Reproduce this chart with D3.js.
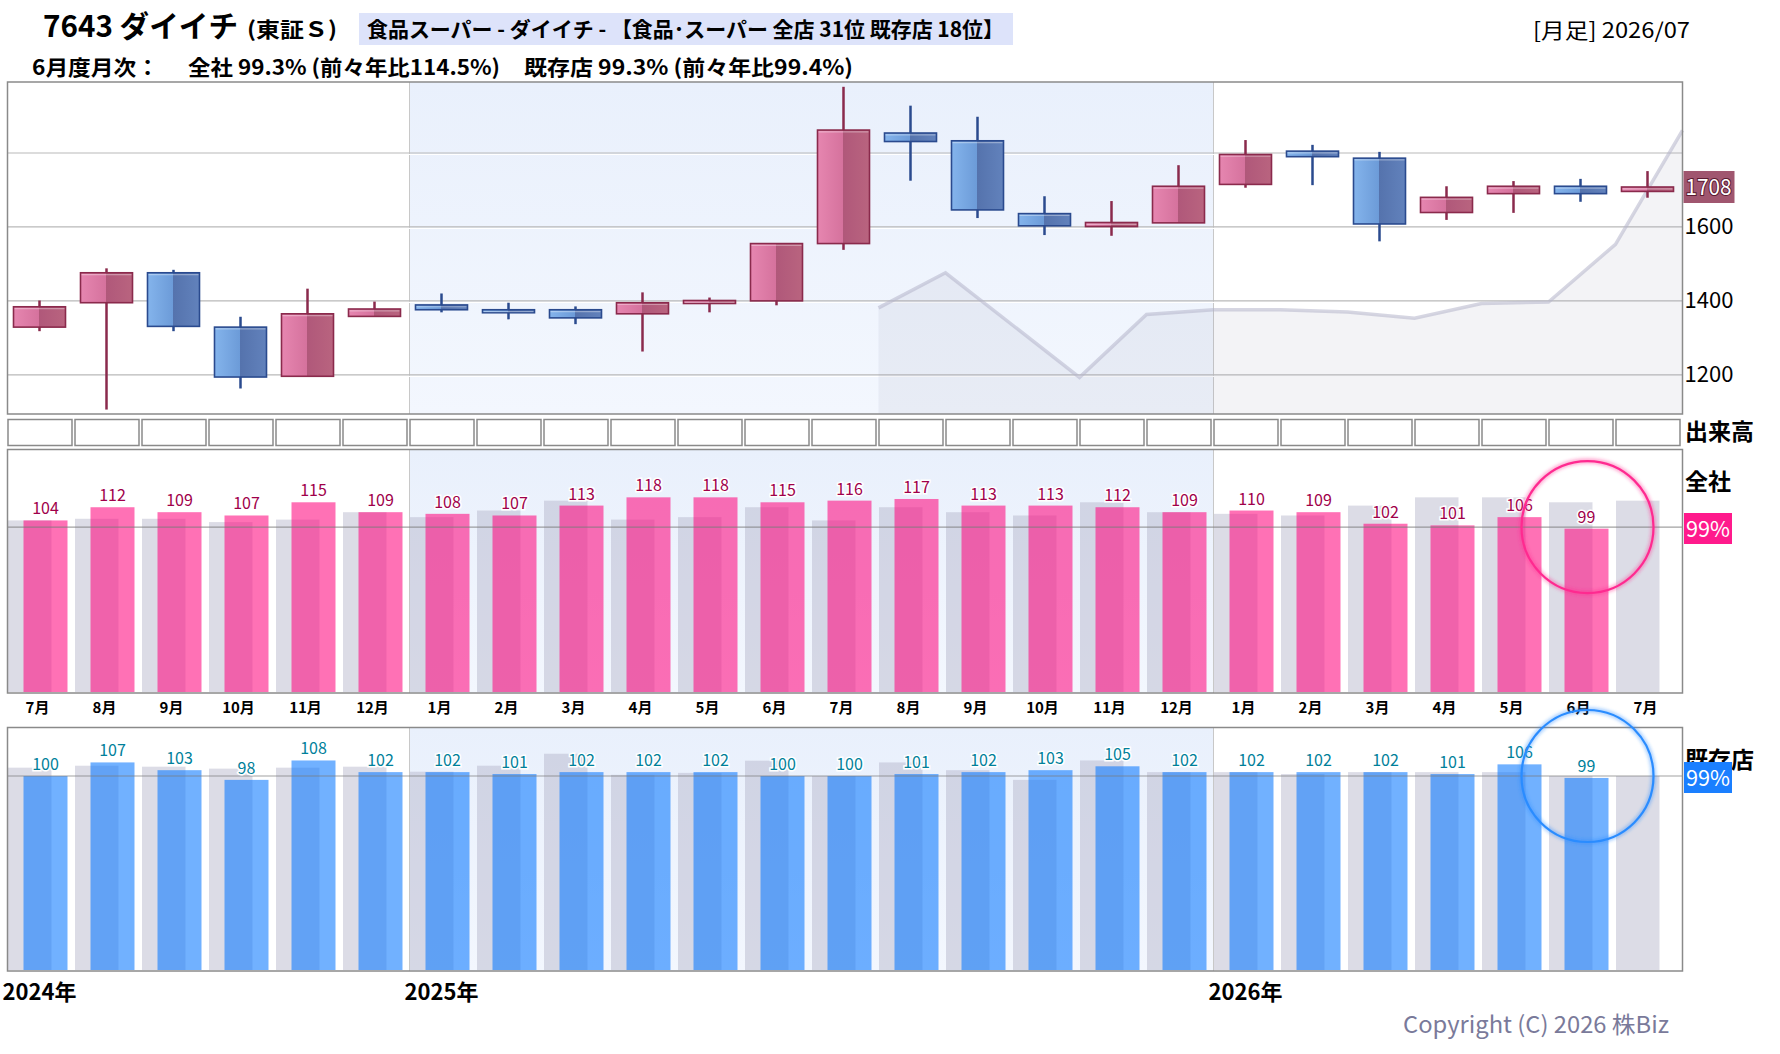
<!DOCTYPE html>
<html>
<head>
<meta charset="utf-8">
<script src="https://d3js.org/d3.v7.min.js"></script>
<style>
  body { margin: 0; background: #fff; }
  text { font-family: "Noto Sans CJK JP", "Noto Sans", sans-serif; }
</style>
</head>
<body>
<div id="chart"></div>
<script>
let width = 1780
let height = 1054

// month labels, 2024/07 .. 2026/07
let months = ["7月", "8月", "9月", "10月", "11月", "12月", "1月", "2月", "3月", "4月", "5月", "6月",
  "7月", "8月", "9月", "10月", "11月", "12月", "1月", "2月", "3月", "4月", "5月", "6月", "7月"]
let yearLabels = ["2024年", "2025年", "2026年"]
let yearStart = [0, 6, 18]

// monthly candles (price)
let opens = [1329, 1395, 1476, 1329, 1196, 1358, 1389, 1376, 1376, 1365, 1395, 1400, 1555,
  1854, 1833, 1636, 1601, 1611, 1715, 1805, 1786, 1639, 1690, 1710, 1696]
let highs = [1401, 1488, 1484, 1357, 1433, 1398, 1420, 1395, 1385, 1423, 1409, 1555, 1979,
  1928, 1898, 1683, 1670, 1767, 1835, 1822, 1803, 1710, 1724, 1730, 1751]
let lows = [1318, 1106, 1318, 1163, 1196, 1358, 1369, 1350, 1337, 1263, 1369, 1388, 1538,
  1725, 1624, 1578, 1576, 1611, 1706, 1713, 1561, 1619, 1638, 1668, 1679]
let closes = [1384, 1476, 1331, 1194, 1365, 1378, 1376, 1369, 1354, 1395, 1401, 1555, 1862,
  1831, 1646, 1603, 1612, 1710, 1796, 1790, 1608, 1680, 1710, 1690, 1708]

// grey background line (column boundary index, value)
let areaIdx = [13, 14, 16, 17, 18, 19, 20, 21, 22, 23, 24, 25]
let areaVals = [1381, 1476, 1193, 1363, 1376, 1376, 1370, 1353, 1393, 1397, 1553, 1861]

let priceTicks = [1200, 1400, 1600]
let gridTicks = [1200, 1400, 1600, 1800]
let lastPrice = 1708

// 全社 monthly sales vs last year (%), and last year's values (grey)
let zensha = [104, 112, 109, 107, 115, 109, 108, 107, 113, 118, 118, 115, 116, 117, 113, 113, 112, 109, 110, 109, 102, 101, 106, 99]
let zenshaPrev = [104, 105, 105, 103, 104.5, 109, 106, 110, 116, 104.5, 106, 112,
  104, 112, 109, 107, 115, 109, 108, 107, 113, 118, 118, 115, 116]

// 既存店
let kizon = [100, 107, 103, 98, 108, 102, 102, 101, 102, 102, 102, 100, 100, 101, 102, 103, 105, 102, 102, 102, 102, 101, 106, 99]
let kizonPrev = [104.3, 105.3, 104.8, 103.8, 104.3, 104.8, 102.2, 105.3, 111.5, 100.6, 101.6, 107.9,
  100, 107, 103, 98, 108, 102, 102, 101, 102, 102, 102, 100, 100]

let svg = d3.select("#chart").append("svg")
  .attr("width", width)
  .attr("height", height)

let defs = svg.append("defs")

function hGrad(id, stops) {
  let g = defs.append("linearGradient").attr("id", id)
    .attr("x1", "0%").attr("x2", "100%").attr("y1", "0%").attr("y2", "0%")
  stops.forEach(s => g.append("stop").attr("offset", s[0]).attr("stop-color", s[1]))
}
hGrad("upGrad", [["0%", "#e686b0"], ["49%", "#d5729d"], ["50%", "#b0587a"], ["100%", "#b9647f"]])
hGrad("dnGrad", [["0%", "#84b4ec"], ["49%", "#6c9bd8"], ["50%", "#5573ad"], ["100%", "#6282bc"]])

let bg = defs.append("linearGradient").attr("id", "bg25")
  .attr("x1", "0%").attr("x2", "0%").attr("y1", "0%").attr("y2", "100%")
bg.append("stop").attr("offset", "0%").attr("stop-color", "#e9f0fc")
bg.append("stop").attr("offset", "100%").attr("stop-color", "#f3f7fe")

let glow = defs.append("filter").attr("id", "glow")
glow.append("feGaussianBlur").attr("stdDeviation", 1.6)

let panel = { left: 7.5, right: 1682.5, top: 82, bottom: 414 }
let xCol = d3.scaleLinear().domain([0, 25]).range([panel.left, panel.right])
let yPrice = d3.scaleLinear().domain([1094, 1992]).range([panel.bottom, panel.top])

//-------------------- price panel
svg.append("rect")
  .attr("x", xCol(6)).attr("y", panel.top)
  .attr("width", xCol(18) - xCol(6)).attr("height", panel.bottom - panel.top)
  .attr("fill", "url(#bg25)")

svg.selectAll(".sep")
  .data([6, 18])
  .enter().append("line")
  .attr("x1", d => xCol(d)).attr("x2", d => xCol(d))
  .attr("y1", panel.top).attr("y2", panel.bottom)
  .attr("stroke", "#c8c8c8").attr("stroke-width", 1)

// grid
svg.selectAll(".gridW")
  .data(gridTicks)
  .enter().append("line")
  .attr("x1", panel.left).attr("x2", panel.right)
  .attr("y1", d => yPrice(d) + 1.5).attr("y2", d => yPrice(d) + 1.5)
  .attr("stroke", "#fff").attr("stroke-width", 1.2)
svg.selectAll(".grid")
  .data(gridTicks)
  .enter().append("line")
  .attr("x1", panel.left).attr("x2", panel.right)
  .attr("y1", d => yPrice(d)).attr("y2", d => yPrice(d))
  .attr("stroke", "#b9b9b9").attr("stroke-width", 1.2)

// grey area
let areaData = areaIdx.map((k, i) => [k, areaVals[i]])
svg.append("path")
  .datum(areaData)
  .attr("d", d3.area().x(d => xCol(d[0])).y0(panel.bottom).y1(d => yPrice(d[1])))
  .attr("fill", "#9a9ab4").attr("fill-opacity", 0.12)
svg.append("path")
  .datum(areaData)
  .attr("d", d3.line().x(d => xCol(d[0])).y(d => yPrice(d[1])))
  .attr("fill", "none").attr("stroke", "#b4b4ca").attr("stroke-opacity", 0.55)
  .attr("stroke-width", 3.5)

// candles
let candles = d3.range(25).map(i => ({ i: i, o: opens[i], h: highs[i], l: lows[i], c: closes[i] }))
let cg = svg.selectAll(".candle")
  .data(candles)
  .enter().append("g")
  .attr("class", "candle")

cg.append("line")
  .attr("x1", d => xCol(d.i) + 32).attr("x2", d => xCol(d.i) + 32)
  .attr("y1", d => yPrice(d.h)).attr("y2", d => yPrice(d.l))
  .attr("stroke", d => d.c >= d.o ? "#8a2a4c" : "#2a4a8e")
  .attr("stroke-width", 2.5)

cg.append("rect")
  .attr("x", d => xCol(d.i) + 6)
  .attr("y", d => yPrice(Math.max(d.o, d.c)))
  .attr("width", 52)
  .attr("height", d => Math.max(3, Math.abs(yPrice(d.o) - yPrice(d.c))))
  .attr("fill", d => d.c >= d.o ? "url(#upGrad)" : "url(#dnGrad)")
  .attr("stroke", d => d.c >= d.o ? "#8a2a4c" : "#2a4a8e")
  .attr("stroke-width", 1.6)

cg.append("line")
  .attr("x1", d => xCol(d.i) + 7).attr("x2", d => xCol(d.i) + 57)
  .attr("y1", d => yPrice(Math.max(d.o, d.c)) + 1.8).attr("y2", d => yPrice(Math.max(d.o, d.c)) + 1.8)
  .attr("stroke", "#fff").attr("stroke-opacity", 0.35).attr("stroke-width", 1.2)

svg.append("rect")
  .attr("x", panel.left).attr("y", panel.top)
  .attr("width", panel.right - panel.left).attr("height", panel.bottom - panel.top)
  .attr("fill", "none").attr("stroke", "#8a8a8a").attr("stroke-width", 1.5)

// price axis on the right
let priceAxis = d3.axisRight(yPrice).tickValues(priceTicks).tickSize(0).tickPadding(2)
  .tickFormat(d3.format("d"))
svg.append("g")
  .attr("transform", "translate(" + panel.right + ",0)")
  .call(priceAxis)
  .call(g => g.select(".domain").remove())
  .selectAll("text")
  .style("font-size", "22px").attr("fill", "#000")

svg.append("rect")
  .attr("x", panel.right + 1).attr("y", yPrice(lastPrice) - 16)
  .attr("width", 51).attr("height", 32).attr("fill", "#a0566f")
svg.append("text")
  .attr("x", panel.right + 26).attr("y", yPrice(lastPrice) + 8)
  .attr("text-anchor", "middle")
  .style("font-size", "22px")
  .attr("textLength", 46).attr("lengthAdjust", "spacingAndGlyphs")
  .attr("fill", "#fff").attr("stroke", "#5a1a30").attr("stroke-width", 2)
  .attr("paint-order", "stroke")
  .text(lastPrice)

//-------------------- volume row (empty)
svg.selectAll(".vol")
  .data(d3.range(25))
  .enter().append("rect")
  .attr("x", d => xCol(d) + 0.5).attr("y", 419.5)
  .attr("width", 64).attr("height", 26)
  .attr("fill", "#fff").attr("stroke", "#8a8a8a").attr("stroke-width", 1.5)
svg.append("text")
  .attr("x", 1685).attr("y", 440)
  .style("font-size", "23px").style("font-weight", "bold")
  .text("出来高")

//-------------------- bar panels
function barPanel(top, bottom, yMax, vals, prev, color, labelColor) {
  let y = d3.scaleLinear().domain([0, yMax]).range([bottom - 1, top])

  svg.append("rect")
    .attr("x", xCol(6)).attr("y", top)
    .attr("width", xCol(18) - xCol(6)).attr("height", bottom - top)
    .attr("fill", "url(#bg25)")
  svg.selectAll(null)
    .data([6, 18])
    .enter().append("line")
    .attr("x1", d => xCol(d)).attr("x2", d => xCol(d))
    .attr("y1", top).attr("y2", bottom)
    .attr("stroke", "#c8c8c8").attr("stroke-width", 1)

  // last year's values (grey)
  svg.selectAll(null)
    .data(prev)
    .enter().append("rect")
    .attr("x", (d, i) => xCol(i) + 0.5)
    .attr("y", d => y(d))
    .attr("width", 43.5)
    .attr("height", d => y(0) - y(d))
    .attr("fill", "#b2b2c8").attr("fill-opacity", 0.45)

  svg.selectAll(null)
    .data(vals)
    .enter().append("rect")
    .attr("x", (d, i) => xCol(i) + 16)
    .attr("y", d => y(d))
    .attr("width", 44)
    .attr("height", d => y(0) - y(d))
    .attr("fill", color).attr("fill-opacity", 0.58)

  svg.append("line")
    .attr("x1", panel.left).attr("x2", panel.right)
    .attr("y1", y(100)).attr("y2", y(100))
    .attr("stroke", "#7a7a7a").attr("stroke-opacity", 0.7).attr("stroke-width", 1.2)

  svg.selectAll(null)
    .data(vals)
    .enter().append("text")
    .attr("x", (d, i) => xCol(i) + 38)
    .attr("y", d => y(d) - 6)
    .attr("text-anchor", "middle")
    .style("font-size", "16px")
    .attr("fill", labelColor)
    .attr("stroke", "#fff").attr("stroke-width", 3).attr("paint-order", "stroke")
    .text(d => d)

  svg.append("rect")
    .attr("x", panel.left).attr("y", top)
    .attr("width", panel.right - panel.left).attr("height", bottom - top)
    .attr("fill", "none").attr("stroke", "#8a8a8a").attr("stroke-width", 1.5)
  return y
}

let yZ = barPanel(449.5, 693, 147, zensha, zenshaPrev, "#ff0a80", "#a0004a")
let yK = barPanel(727.5, 971, 125, kizon, kizonPrev, "#0a78ff", "#00809a")

// month labels
svg.selectAll(".month")
  .data(months)
  .enter().append("text")
  .attr("x", (d, i) => xCol(i) + 30)
  .attr("y", 713)
  .attr("text-anchor", "middle")
  .style("font-size", "15px").style("font-weight", "bold")
  .text(d => d)

// year labels
svg.selectAll(".year")
  .data(yearLabels)
  .enter().append("text")
  .attr("x", (d, i) => xCol(yearStart[i]) - 5)
  .attr("y", 1000)
  .style("font-size", "22px").style("font-weight", "bold")
  .text(d => d)

// latest month markers
let lastIdx = zensha.length - 1
let marks = [[yZ(100), "#ff2a90"], [yK(100), "#2a8cff"]]
marks.forEach(m => {
  svg.append("circle")
    .attr("cx", xCol(lastIdx) + 39).attr("cy", m[0])
    .attr("r", 66).attr("fill", "none")
    .attr("stroke", m[1]).attr("stroke-opacity", 0.35).attr("stroke-width", 6)
    .attr("filter", "url(#glow)")
  svg.append("circle")
    .attr("cx", xCol(lastIdx) + 39).attr("cy", m[0])
    .attr("r", 66).attr("fill", "none")
    .attr("stroke", m[1]).attr("stroke-width", 2.2)
})

// right side labels
svg.append("text").attr("x", 1685).attr("y", 490)
  .style("font-size", "23px").style("font-weight", "bold").text("全社")
svg.append("text").attr("x", 1685).attr("y", 768)
  .style("font-size", "23px").style("font-weight", "bold").text("既存店")

let boxes = [[513, "#ff1a8c", zensha[lastIdx]], [762, "#1a7fff", kizon[lastIdx]]]
boxes.forEach(b => {
  svg.append("rect").attr("x", 1684).attr("y", b[0])
    .attr("width", 48).attr("height", 31).attr("fill", b[1])
  svg.append("text").attr("x", 1708).attr("y", b[0] + 24)
    .attr("text-anchor", "middle")
    .style("font-size", "22px").attr("fill", "#fff")
    .attr("textLength", 44).attr("lengthAdjust", "spacingAndGlyphs")
    .text(b[2] + "%")
})

//-------------------- header
function headText(x, y, size, weight, len, str) {
  svg.append("text").attr("x", x).attr("y", y)
    .style("font-size", size + "px").style("font-weight", weight)
    .attr("textLength", len).attr("lengthAdjust", "spacingAndGlyphs")
    .text(str)
}
headText(43, 37, 30, "bold", 195, "7643 ダイイチ")
headText(247, 37, 21, "bold", 90, "(東証Ｓ)")

svg.append("rect").attr("x", 359).attr("y", 13)
  .attr("width", 654).attr("height", 32).attr("fill", "#dde3fa")
headText(367, 37, 21, "bold", 637, "食品スーパー - ダイイチ - 【食品･スーパー 全店 31位 既存店 18位】")

headText(32, 75, 21, "bold", 127, "6月度月次：")
headText(188, 75, 21, "bold", 312, "全社 99.3% (前々年比114.5%)")
headText(524, 75, 21, "bold", 329, "既存店 99.3% (前々年比99.4%)")

headText(1533, 38, 21, "normal", 157, "[月足] 2026/07")

svg.append("text").attr("x", 1669).attr("y", 1033)
  .attr("text-anchor", "end")
  .style("font-size", "23px").attr("fill", "#7a7a9a")
  .attr("textLength", 266).attr("lengthAdjust", "spacingAndGlyphs")
  .text("Copyright (C) 2026 株Biz")
</script>
</body>
</html>
